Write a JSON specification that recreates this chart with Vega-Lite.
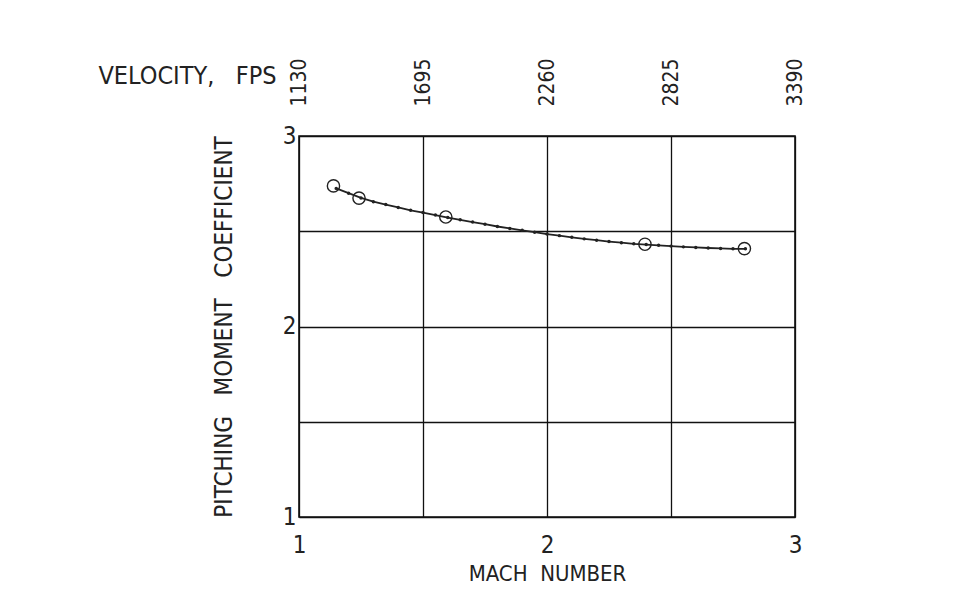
{
  "$schema": "https://vega.github.io/schema/vega-lite/v6.json",
  "width": 496,
  "height": 381,
  "autosize": "none",
  "padding": {"left": 299, "top": 136, "right": 177, "bottom": 78},
  "background": "white",
  "config": {
    "font": "DejaVu Sans Condensed, Liberation Sans",
    "view": {"stroke": "#111", "strokeWidth": 1.6},
    "axis": {
      "labelFont": "DejaVu Sans Condensed, Liberation Sans",
      "titleFont": "DejaVu Sans Condensed, Liberation Sans",
      "labelColor": "#222",
      "titleColor": "#222",
      "titleFontWeight": "normal",
      "domain": false,
      "ticks": false,
      "gridColor": "#111",
      "gridOpacity": 1,
      "gridWidth": 1.3
    }
  },
  "datasets": {
    "curve": [
      {"mach": 1.15, "cm": 2.725}, {"mach": 1.2, "cm": 2.7}, {"mach": 1.25, "cm": 2.675},
      {"mach": 1.3, "cm": 2.655}, {"mach": 1.35, "cm": 2.64}, {"mach": 1.4, "cm": 2.625},
      {"mach": 1.45, "cm": 2.61}, {"mach": 1.5, "cm": 2.598}, {"mach": 1.55, "cm": 2.585},
      {"mach": 1.6, "cm": 2.572}, {"mach": 1.65, "cm": 2.56}, {"mach": 1.7, "cm": 2.548},
      {"mach": 1.75, "cm": 2.537}, {"mach": 1.8, "cm": 2.525}, {"mach": 1.85, "cm": 2.515},
      {"mach": 1.9, "cm": 2.505}, {"mach": 1.95, "cm": 2.495}, {"mach": 2.0, "cm": 2.485},
      {"mach": 2.05, "cm": 2.477}, {"mach": 2.1, "cm": 2.468}, {"mach": 2.15, "cm": 2.46},
      {"mach": 2.2, "cm": 2.453}, {"mach": 2.25, "cm": 2.446}, {"mach": 2.3, "cm": 2.44},
      {"mach": 2.35, "cm": 2.434}, {"mach": 2.4, "cm": 2.43}, {"mach": 2.45, "cm": 2.426},
      {"mach": 2.5, "cm": 2.422}, {"mach": 2.55, "cm": 2.418}, {"mach": 2.6, "cm": 2.415},
      {"mach": 2.65, "cm": 2.412}, {"mach": 2.7, "cm": 2.41}, {"mach": 2.75, "cm": 2.408},
      {"mach": 2.8, "cm": 2.408}
    ],
    "points": [
      {"mach": 1.139, "cm": 2.738},
      {"mach": 1.242, "cm": 2.674},
      {"mach": 1.592, "cm": 2.575},
      {"mach": 2.395, "cm": 2.432},
      {"mach": 2.796, "cm": 2.409}
    ]
  },
  "resolve": {"axis": {"x": "independent"}},
  "layer": [
    {
      "data": {"name": "curve"},
      "mark": {"type": "line", "color": "#222", "strokeWidth": 1.8},
      "encoding": {
        "x": {
          "field": "mach", "type": "quantitative",
          "scale": {"domain": [1, 3], "nice": false},
          "axis": {
            "orient": "bottom",
            "values": [1, 1.5, 2, 2.5, 3],
            "labelExpr": "datum.value % 1 === 0 ? format(datum.value, 'd') : ''",
            "labelFontSize": 24,
            "labelPadding": 16,
            "labelFlush": false,
            "title": "MACH\u00a0\u00a0NUMBER",
            "titleFontSize": 22,
            "titlePadding": 6
          }
        },
        "y": {
          "field": "cm", "type": "quantitative",
          "scale": {"domain": [1, 3], "nice": false, "zero": false},
          "axis": {
            "values": [1, 1.5, 2, 2.5, 3],
            "labelExpr": "datum.value % 1 === 0 ? format(datum.value, 'd') : ''",
            "labelFontSize": 24,
            "labelPadding": 3,
            "labelFlush": false,
            "title": "PITCHING\u00a0\u00a0\u00a0MOMENT\u00a0\u00a0\u00a0COEFFICIENT",
            "titleFontSize": 24,
            "titlePadding": 46
          }
        }
      }
    },
    {
      "data": {"name": "curve"},
      "mark": {"type": "point", "filled": true, "color": "#222", "size": 12, "opacity": 1},
      "encoding": {
        "x": {"field": "mach", "type": "quantitative", "axis": null},
        "y": {"field": "cm", "type": "quantitative"}
      }
    },
    {
      "data": {"name": "points"},
      "mark": {"type": "point", "shape": "circle", "filled": false, "color": "#222", "size": 150, "strokeWidth": 1.4, "opacity": 1},
      "encoding": {
        "x": {
          "field": "mach", "type": "quantitative",
          "axis": {
            "orient": "top",
            "values": [1, 1.5, 2, 2.5, 3],
            "labelExpr": "format(datum.value * 1130, 'd')",
            "labelAngle": -90,
            "labelFontSize": 21,
            "labelPadding": 30,
            "labelFlush": false,
            "grid": false,
            "title": "VELOCITY,\u00a0\u00a0\u00a0FPS",
            "titleFontSize": 25,
            "titleAngle": 0,
            "titleAlign": "center",
            "titleBaseline": "middle",
            "titleX": -112,
            "titleY": -61
          }
        },
        "y": {"field": "cm", "type": "quantitative"}
      }
    }
  ]
}
